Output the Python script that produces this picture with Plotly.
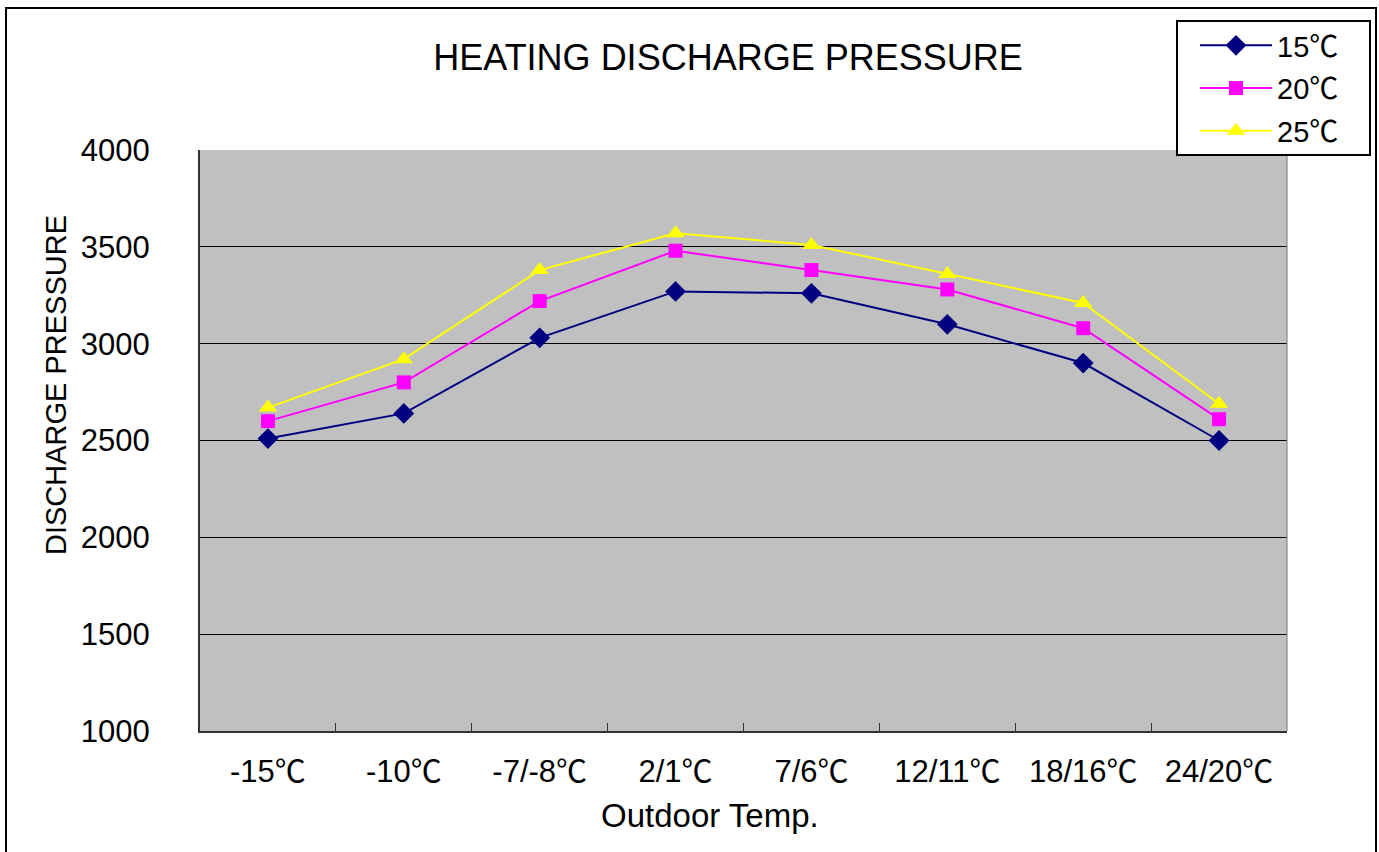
import plotly.graph_objects as go

# Outdoor temperature steps (x categories)
categories = ["-15℃", "-10℃", "-7/-8℃", "2/1℃", "7/6℃", "12/11℃", "18/16℃", "24/20℃"]

# Discharge pressure for each indoor temperature
p15 = [2510, 2640, 3030, 3270, 3260, 3100, 2900, 2500]
p20 = [2600, 2800, 3220, 3480, 3380, 3280, 3080, 2610]
p25 = [2670, 2920, 3380, 3570, 3510, 3360, 3210, 2690]

y_ticks = [1000, 1500, 2000, 2500, 3000, 3500, 4000]

FONT = "Liberation Sans, Arial, Noto Sans CJK SC, sans-serif"

W, H = 1379, 852
L, R, T, B = 200, 92, 150, 121
PW, PH = W - L - R, H - T - B


def px_x(x):
    return (x - L) / PW


def px_y(y):
    return (H - B - y) / PH


series = [
    ("15℃", p15, "#000080", "diamond", 16),
    ("20℃", p20, "#FF00FF", "square", 14),
    ("25℃", p25, "#FFFF00", "triangle-up", 16),
]

fig = go.Figure()
for i, (name, vals, color, symbol, size) in enumerate(series):
    fig.add_trace(go.Scatter(
        x=categories, y=vals, name=name, mode="lines+markers",
        line=dict(color=color, width=2),
        marker=dict(symbol=symbol, size=size, color=color),
        legendgroup=f"g{i}",
    ))

fig.update_layout(
    width=W, height=H,
    margin=dict(l=L, r=R, t=T, b=B),
    paper_bgcolor="white",
    plot_bgcolor="#C0C0C0",
    font=dict(family=FONT, size=30, color="black"),
    title=dict(
        text="HEATING DISCHARGE PRESSURE",
        font=dict(family=FONT, size=36, color="black"),
        x=px_x(728), xref="paper", xanchor="center",
        y=1 - 57 / H, yref="container", yanchor="middle",
    ),
    legend=dict(
        x=px_x(1195), y=px_y(20), xanchor="left", yanchor="top",
        borderwidth=0, bgcolor="rgba(0,0,0,0)",
        font=dict(family=FONT, size=29, color="black"),
        traceorder="grouped", tracegroupgap=2,
        itemwidth=72,
    ),
    xaxis=dict(
        type="category",
        showgrid=False,
        showline=True, linecolor="#333333", linewidth=2,
        mirror=False,
        ticks="inside", tickson="boundaries", ticklen=8,
        tickcolor="#333333", tickwidth=1,
        tickfont=dict(family=FONT, size=31),
        ticklabelstandoff=12,
        range=[-0.5, len(categories) - 0.5],
    ),
    yaxis=dict(
        range=[1000, 4000],
        tickvals=y_ticks,
        showgrid=True, gridcolor="black", gridwidth=1,
        showline=True, linecolor="#333333", linewidth=2,
        ticks="",
        tickfont=dict(family=FONT, size=31),
        ticklabelstandoff=42,
        zeroline=False,
    ),
    annotations=[
        dict(text="Outdoor Temp.", x=px_x(710), y=px_y(815),
             xref="paper", yref="paper", xanchor="center", yanchor="middle",
             showarrow=False, font=dict(family=FONT, size=33)),
        dict(text="DISCHARGE PRESSURE", x=px_x(56), y=px_y(385),
             xref="paper", yref="paper", xanchor="center", yanchor="middle",
             textangle=-90, showarrow=False, font=dict(family=FONT, size=29)),
    ],
    shapes=[
        # chart frame
        dict(type="rect", xref="paper", yref="paper",
             x0=px_x(6), x1=px_x(1376), y0=px_y(862), y1=px_y(8),
             line=dict(color="black", width=2), layer="below"),
        # right edge of plot area
        dict(type="line", xref="paper", yref="paper",
             x0=1, x1=1, y0=0, y1=1,
             line=dict(color="#777777", width=1)),
        # legend box
        dict(type="rect", xref="paper", yref="paper",
             x0=px_x(1177), x1=px_x(1370), y0=px_y(155), y1=px_y(21),
             fillcolor="white", line=dict(color="black", width=2),
             layer="above"),
    ],
)

fig.write_html("out.html")
